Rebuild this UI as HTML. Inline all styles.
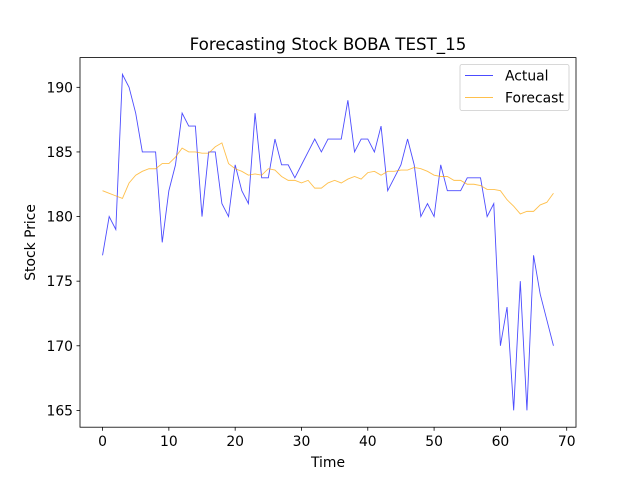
<!DOCTYPE html>
<html><head><meta charset="utf-8"><style>body{margin:0;background:#fff}svg text{font-family:"DejaVu Sans","Liberation Sans",sans-serif;fill:#000}</style></head>
<body>
<svg id="chart" width="640" height="480"></svg>
<script>
const actual=[177,180,179,191,190,188,185,185,185,178,182,184,188,187,187,180,185,185,181,180,184,182,181,188,183,183,186,184,184,183,184,185,186,185,186,186,186,189,185,186,186,185,187,182,183,184,186,184,180,181,180,184,182,182,182,183,183,183,180,181,170,173,165,175,165,177,174,172,170];
const forecast=[182,181.8,181.6,181.4,182.6,183.2,183.5,183.7,183.7,184.1,184.1,184.6,185.3,185,185,184.9,184.9,185.4,185.7,184.1,183.7,183.5,183.2,183.3,183.2,183.7,183.6,183.1,182.8,182.8,182.6,182.8,182.2,182.2,182.6,182.8,182.6,182.9,183.1,182.9,183.4,183.5,183.2,183.5,183.5,183.6,183.6,183.8,183.7,183.5,183.2,183.1,183.1,182.8,182.8,182.5,182.5,182.4,182.1,182.1,182,181.3,180.8,180.2,180.4,180.4,180.9,181.1,181.8];
const xTicks=[0,10,20,30,40,50,60,70];
const yTicks=[165,170,175,180,185,190];
const L=80,R=576,T=57.6,B=427.2;
const n=actual.length;
const xmin=-(n-1)*0.05,xmax=(n-1)*1.05;
const all=actual.concat(forecast);
const dmin=Math.min(...all),dmax=Math.max(...all),pad=(dmax-dmin)*0.05;
const ymin=dmin-pad,ymax=dmax+pad;
const X=v=>L+(v-xmin)/(xmax-xmin)*(R-L);
const Y=v=>B-(v-ymin)/(ymax-ymin)*(B-T);
const svg=document.getElementById('chart');
const NS='http://www.w3.org/2000/svg';
function mk(tag,attrs,parent){const e=document.createElementNS(NS,tag);for(const k in attrs)e.setAttribute(k,attrs[k]);(parent||svg).appendChild(e);return e;}
function txt(s,attrs){const e=mk('text',attrs);e.textContent=s;return e;}
let p=mk('polyline',{points:actual.map((v,i)=>X(i)+','+Y(v)).join(' '),fill:'none',stroke:'#0000ff','stroke-opacity':0.7,'stroke-width':0.9});


p=mk('polyline',{points:forecast.map((v,i)=>X(i)+','+Y(v)).join(' '),fill:'none',stroke:'#ffa500','stroke-opacity':0.7,'stroke-width':0.9});


const ax=mk('rect',{x:L,y:T,width:R-L,height:B-T,fill:'none',stroke:'#000','stroke-width':0.8});


xTicks.forEach(t=>{const x=X(t);mk('line',{x1:x,x2:x,y1:B,y2:B+3.5,stroke:'#000','stroke-width':0.8});
const e=txt(String(t),{x:x,y:B+19,'text-anchor':'middle','font-size':13.9});

});
yTicks.forEach(t=>{const y=Y(t);mk('line',{x1:L-3.5,x2:L,y1:y,y2:y,stroke:'#000','stroke-width':0.8});
const e=txt(String(t),{x:L-7,y:y+5,'text-anchor':'end','font-size':13.9});

});
let t=txt('Forecasting Stock BOBA TEST_15',{x:(L+R)/2,y:50,'text-anchor':'middle','font-size':16.7});


t=txt('Time',{x:(L+R)/2,y:467,'text-anchor':'middle','font-size':13.9});


t=txt('Stock Price',{x:0,y:0,'text-anchor':'middle','font-size':13.9,transform:'translate(35,'+((T+B)/2)+') rotate(-90)'});


const lg=mk('g',{});


mk('rect',{x:460,y:64.5,width:109,height:46,rx:2,fill:'#fff','fill-opacity':0.8,stroke:'#ccc','stroke-width':0.8},lg);
mk('line',{x1:465,x2:493,y1:75.5,y2:75.5,stroke:'#0000ff','stroke-opacity':0.7,'stroke-width':0.9},lg);
mk('line',{x1:465,x2:493,y1:97.5,y2:97.5,stroke:'#ffa500','stroke-opacity':0.7,'stroke-width':0.9},lg);
t=txt('Actual',{x:505,y:80.5,'font-size':13.9});


t=txt('Forecast',{x:505,y:102.5,'font-size':13.9});


</script>
</body></html>
